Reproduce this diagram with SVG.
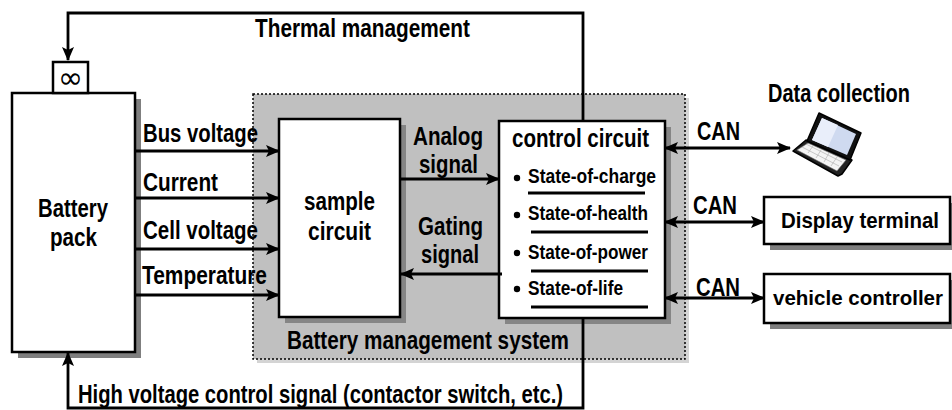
<svg xmlns="http://www.w3.org/2000/svg" width="952" height="410" viewBox="0 0 952 410">
<defs>
<marker id="ah" viewBox="0 0 14 12" refX="13" refY="6" markerWidth="14" markerHeight="12" markerUnits="userSpaceOnUse" orient="auto-start-reverse">
<path d="M0,0 L14,6 L0,12 L3,6 z" fill="#000"/>
</marker>
</defs>
<style>
text{font-family:"Liberation Sans Narrow","Liberation Sans",Arial,sans-serif;font-weight:bold;font-size:25px;fill:#000}
.box{fill:#fff;stroke:#000;stroke-width:2.5}
.sh{fill:#7f7f7f}
.ln{fill:none;stroke:#000;stroke-width:2.8}
.ul{stroke:#000;stroke-width:3}
.st{font-size:21px}
.big{font-size:25px}
.rt{font-size:22px}
.rv{font-size:21px}
</style>
<rect width="952" height="410" fill="#fff"/>

<g id="bms">
<rect x="257" y="98" width="432" height="265" fill="#d4d4d4"/>
<rect x="253" y="94" width="432" height="265" fill="#c0c0c0" stroke="#000" stroke-width="1.5" stroke-dasharray="2,2"/>
<text x="287" y="349" textLength="282" lengthAdjust="spacingAndGlyphs">Battery management system</text>
</g>

<g id="battery-pack">
<rect class="sh" x="18" y="99" width="123" height="259"/>
<rect class="box" x="12" y="93" width="123" height="259"/>
<text class="big" x="38" y="217" textLength="70" lengthAdjust="spacingAndGlyphs">Battery</text>
<text class="big" x="50" y="246" textLength="47" lengthAdjust="spacingAndGlyphs">pack</text>
</g>

<g id="thermal-unit">
<rect class="box" x="53" y="62" width="35" height="31"/>
<text x="70.5" y="88" text-anchor="middle" style="font-family:'DejaVu Sans',sans-serif;font-weight:normal;font-size:30px">∞</text>
</g>

<g id="sample-circuit">
<rect fill="#858585" x="285" y="125" width="121" height="198"/>
<rect class="box" x="279" y="119" width="121" height="198"/>
<text x="304" y="210" textLength="71" lengthAdjust="spacingAndGlyphs">sample</text>
<text x="308" y="240" textLength="63" lengthAdjust="spacingAndGlyphs">circuit</text>
</g>

<g id="control-circuit">
<rect fill="#858585" x="505" y="127" width="166" height="197"/>
<rect class="box" x="499" y="121" width="166" height="197"/>
<text x="512" y="147" textLength="137" lengthAdjust="spacingAndGlyphs">control circuit</text>
<circle cx="517" cy="178" r="3.2"/>
<text class="st" x="528" y="183" textLength="128" lengthAdjust="spacingAndGlyphs">State-of-charge</text>
<line class="ul" x1="528" y1="193" x2="645" y2="193"/>
<circle cx="517" cy="215" r="3.2"/>
<text class="st" x="528" y="220" textLength="120" lengthAdjust="spacingAndGlyphs">State-of-health</text>
<line class="ul" x1="531" y1="232" x2="648" y2="232"/>
<circle cx="517" cy="253" r="3.2"/>
<text class="st" x="528" y="259" textLength="120" lengthAdjust="spacingAndGlyphs">State-of-power</text>
<line class="ul" x1="531" y1="271" x2="648" y2="271"/>
<circle cx="517" cy="289" r="3.2"/>
<text class="st" x="528" y="295" textLength="95" lengthAdjust="spacingAndGlyphs">State-of-life</text>
<line class="ul" x1="531" y1="307" x2="648" y2="307"/>
</g>

<g id="data-collection">
<text x="768" y="102" textLength="142" lengthAdjust="spacingAndGlyphs">Data collection</text>
<path d="M793,151 L838,176 L842,174 L852,160 L806,140 Z" fill="#222" stroke="#000" stroke-width="1.5" stroke-linejoin="round"/>
<path d="M797,150 L837,171 L846,160 L808,143 Z" fill="#f4f4f4" stroke="#666" stroke-width="0.6"/>
<path d="M802,147 L839,166 M806,144 L842,162 M813,146 L808,153 M821,150 L816,158 M829,153 L824,162 M837,157 L831,166" stroke="#aaa" stroke-width="0.6" fill="none"/>
<path d="M819,113 L861,133 L850,160 L807,141 Z" fill="#111" stroke="#000" stroke-width="1.5" stroke-linejoin="round"/>
<path d="M822,118 L856,134 L847,155 L812,140 Z" fill="#cfdaf0"/>
<path d="M822,118 L838,125 L828,147 L812,140 Z" fill="#e9eefa"/>
</g>

<g id="display-terminal">
<rect class="sh" x="770" y="203" width="182" height="47"/>
<rect class="box" x="764" y="197" width="186" height="47"/>
<text class="rt" x="781" y="228" textLength="158" lengthAdjust="spacingAndGlyphs">Display terminal</text>
</g>

<g id="vehicle-controller">
<rect class="sh" x="770" y="280" width="182" height="49"/>
<rect class="box" x="764" y="274" width="186" height="49"/>
<text class="rv" x="773" y="305" textLength="170" lengthAdjust="spacingAndGlyphs">vehicle controller</text>
</g>

<g id="connectors">
<path class="ln" d="M583,121 V13 H68 V60" marker-end="url(#ah)"/>
<text x="255" y="37" textLength="215" lengthAdjust="spacingAndGlyphs">Thermal management</text>
<path class="ln" d="M583,318 V408 H68 V353" marker-end="url(#ah)"/>
<text x="78" y="403" textLength="485" lengthAdjust="spacingAndGlyphs">High voltage control signal (contactor switch, etc.)</text>

<line class="ln" x1="135" y1="151" x2="279" y2="151" marker-end="url(#ah)"/>
<line class="ln" x1="135" y1="198" x2="279" y2="198" marker-end="url(#ah)"/>
<line class="ln" x1="135" y1="249" x2="279" y2="249" marker-end="url(#ah)"/>
<line class="ln" x1="135" y1="295" x2="279" y2="295" marker-end="url(#ah)"/>
<text x="143" y="142" textLength="115" lengthAdjust="spacingAndGlyphs">Bus voltage</text>
<text x="143" y="191" textLength="75" lengthAdjust="spacingAndGlyphs">Current</text>
<text x="143" y="239" textLength="115" lengthAdjust="spacingAndGlyphs">Cell voltage</text>
<text x="142" y="284" textLength="125" lengthAdjust="spacingAndGlyphs">Temperature</text>

<line class="ln" x1="400" y1="179" x2="499" y2="179" marker-end="url(#ah)"/>
<text x="413" y="145" textLength="70" lengthAdjust="spacingAndGlyphs">Analog</text>
<text x="419" y="173" textLength="59" lengthAdjust="spacingAndGlyphs">signal</text>
<line class="ln" x1="502" y1="274" x2="401" y2="274" marker-end="url(#ah)"/>
<text x="418" y="235" textLength="65" lengthAdjust="spacingAndGlyphs">Gating</text>
<text x="421" y="263" textLength="58" lengthAdjust="spacingAndGlyphs">signal</text>

<line class="ln" x1="665" y1="148" x2="790" y2="148" marker-start="url(#ah)" marker-end="url(#ah)"/>
<line class="ln" x1="665" y1="222" x2="764" y2="222" marker-start="url(#ah)" marker-end="url(#ah)"/>
<line class="ln" x1="665" y1="298" x2="764" y2="298" marker-start="url(#ah)" marker-end="url(#ah)"/>
<text x="697" y="140" textLength="43" lengthAdjust="spacingAndGlyphs">CAN</text>
<text x="693" y="214" textLength="44" lengthAdjust="spacingAndGlyphs">CAN</text>
<text x="696" y="296" textLength="44" lengthAdjust="spacingAndGlyphs">CAN</text>
</g>
</svg>
